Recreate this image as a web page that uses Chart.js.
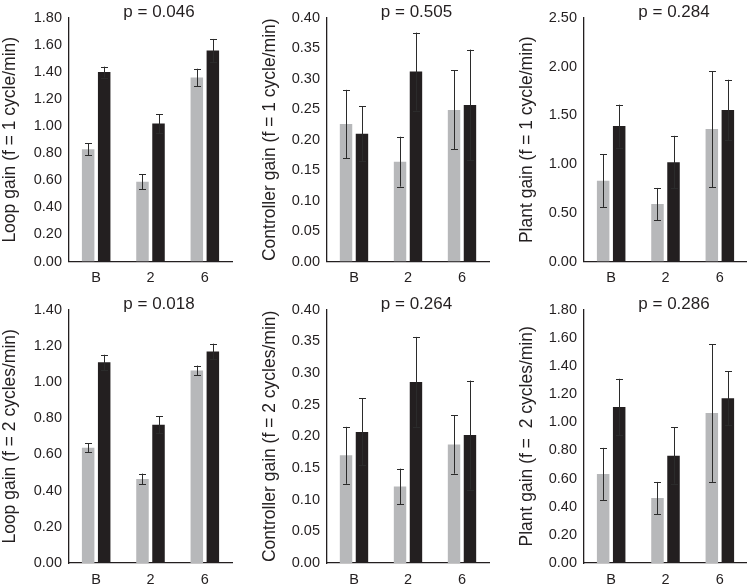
<!DOCTYPE html>
<html><head><meta charset="utf-8">
<script src="https://cdn.jsdelivr.net/npm/chart.js@4"></script>
<style>
html,body{margin:0;padding:0;background:#fff;width:747px;height:586px;overflow:hidden;}
canvas{position:absolute;}
</style></head>
<body>
<canvas id="c1" width="249" height="293" style="left:0px;top:0px"></canvas>
<canvas id="c2" width="238" height="293" style="left:260px;top:0px"></canvas>
<canvas id="c3" width="230" height="293" style="left:517px;top:0px"></canvas>
<canvas id="c4" width="249" height="293" style="left:0px;top:293px"></canvas>
<canvas id="c5" width="238" height="293" style="left:260px;top:293px"></canvas>
<canvas id="c6" width="230" height="293" style="left:517px;top:293px"></canvas>
<script>
// ---- data ----
const categories = ['B', '2', '6'];

const loop1Grey = [0.83, 0.59, 1.36];
const loop1GreyErr = [0.045, 0.055, 0.065];
const loop1Black = [1.40, 1.02, 1.56];
const loop1BlackErr = [0.04, 0.07, 0.085];

const ctrl1Grey = [0.226, 0.164, 0.249];
const ctrl1GreyErr = [0.056, 0.041, 0.065];
const ctrl1Black = [0.210, 0.312, 0.257];
const ctrl1BlackErr = [0.045, 0.064, 0.091];

const plant1Grey = [0.83, 0.59, 1.36];
const plant1GreyErr = [0.27, 0.165, 0.595];
const plant1Black = [1.39, 1.02, 1.556];
const plant1BlackErr = [0.22, 0.27, 0.31];

const loop2Grey = [0.637, 0.464, 1.064];
const loop2GreyErr = [0.026, 0.03, 0.027];
const loop2Black = [1.109, 0.764, 1.169];
const loop2BlackErr = [0.042, 0.048, 0.043];

const ctrl2Grey = [0.170, 0.121, 0.187];
const ctrl2GreyErr = [0.045, 0.028, 0.046];
const ctrl2Black = [0.207, 0.286, 0.202];
const ctrl2BlackErr = [0.053, 0.071, 0.086];

const plant2Grey = [0.633, 0.462, 1.066];
const plant2GreyErr = [0.185, 0.114, 0.49];
const plant2Black = [1.109, 0.763, 1.171];
const plant2BlackErr = [0.2, 0.2, 0.19];

const pValues = ['p = 0.046', 'p = 0.505', 'p = 0.284', 'p = 0.018', 'p = 0.264', 'p = 0.286'];
const yTitles = ['Loop gain (f = 1 cycle/min)', 'Controller gain (f = 1 cycle/min)', 'Plant gain (f = 1 cycle/min)',
                 'Loop gain (f = 2 cycles/min)', 'Controller gain (f = 2 cycles/min)', 'Plant gain (f =  2 cycles/min)'];
const yMaxes = [1.8, 0.4, 2.5, 1.4, 0.4, 1.8];
const ySteps = [0.2, 0.05, 0.5, 0.2, 0.05, 0.2];

// ---- styles ----
const GREY = '#b7b8ba';
const BLACK = '#231f20';
const TEXT = '#231f20';
const FONT = "'Liberation Sans', Arial, sans-serif";

const errorBarPlugin = {
  id: 'errbars',
  afterDatasetsDraw(chart) {
    const ctx = chart.ctx;
    const ys = chart.scales.y;
    ctx.save();
    ctx.strokeStyle = '#2b2b2b';
    ctx.lineWidth = 1;
    chart.data.datasets.forEach((ds, di) => {
      const meta = chart.getDatasetMeta(di);
      meta.data.forEach((el, i) => {
        const v = ds.data[i], e = ds.errors[i];
        const x = Math.round(el.x) + 0.5;
        const yt = ys.getPixelForValue(v + e);
        const yb = ys.getPixelForValue(v - e);
        ctx.beginPath();
        ctx.moveTo(x, yt); ctx.lineTo(x, yb);
        ctx.moveTo(x - 3.5, Math.round(yt) + 0.5); ctx.lineTo(x + 3.5, Math.round(yt) + 0.5);
        ctx.moveTo(x - 3.5, Math.round(yb) + 0.5); ctx.lineTo(x + 3.5, Math.round(yb) + 0.5);
        ctx.stroke();
      });
    });
    ctx.restore();
  }
};

const pTitlePlugin = {
  id: 'ptitle',
  afterDraw(chart, args, opts) {
    const ctx = chart.ctx, ca = chart.chartArea;
    ctx.save();
    ctx.fillStyle = TEXT;
    ctx.font = "17px " + FONT;
    ctx.textAlign = 'center';
    ctx.textBaseline = 'alphabetic';
    ctx.fillText(opts.text, (ca.left + ca.right) / 2 + 8.5, opts.y);
    ctx.restore();
  }
};

function makeChart(id, greyVals, greyErr, blackVals, blackErr, idx, yWidth, padRight, padTop, xHeight, titleY) {
  new Chart(document.getElementById(id), {
    type: 'bar',
    data: {
      labels: categories,
      datasets: [
        { data: greyVals, errors: greyErr, backgroundColor: GREY, borderWidth: 0 },
        { data: blackVals, errors: blackErr, backgroundColor: BLACK, borderWidth: 0 }
      ]
    },
    options: {
      responsive: false,
      animation: false,
      devicePixelRatio: 1,
      categoryPercentage: 0.59,
      barPercentage: 0.78,
      layout: { padding: { left: 0, right: padRight, top: padTop, bottom: 0 } },
      plugins: {
        legend: { display: false },
        tooltip: { enabled: false },
        ptitle: { text: pValues[idx], y: titleY }
      },
      scales: {
        x: {
          grid: { display: false, drawTicks: false },
          border: { display: true, color: BLACK, width: 1.3 },
          ticks: { color: TEXT, font: { family: FONT, size: 14.5 }, padding: 8 },
          afterFit(s) { s.height = xHeight; }
        },
        y: {
          min: 0, max: yMaxes[idx],
          grid: { display: false, drawTicks: false },
          border: { display: true, color: BLACK, width: 1.3 },
          ticks: {
            stepSize: ySteps[idx], color: TEXT, padding: 7,
            font: { family: FONT, size: 14.5 },
            callback: (v) => Number(v).toFixed(2)
          },
          title: {
            display: true, text: yTitles[idx], color: TEXT,
            font: { family: FONT, size: 17.5, lineHeight: 1.2 },
            padding: { top: 0, bottom: 0 }
          },
          afterFit(s) { s.width = yWidth; }
        }
      }
    },
    plugins: [errorBarPlugin, pTitlePlugin]
  });
}

makeChart('c1', loop1Grey, loop1GreyErr, loop1Black, loop1BlackErr, 0, 69, 17, 18, 31.5, 16.7);
makeChart('c2', ctrl1Grey, ctrl1GreyErr, ctrl1Black, ctrl1BlackErr, 1, 67, 9, 18, 31.5, 16.7);
makeChart('c3', plant1Grey, plant1GreyErr, plant1Black, plant1BlackErr, 2, 67, 0, 18, 31.5, 16.7);
makeChart('c4', loop2Grey, loop2GreyErr, loop2Black, loop2BlackErr, 3, 69, 17, 16.7, 23, 15.7);
makeChart('c5', ctrl2Grey, ctrl2GreyErr, ctrl2Black, ctrl2BlackErr, 4, 67, 9, 16.7, 23, 15.7);
makeChart('c6', plant2Grey, plant2GreyErr, plant2Black, plant2BlackErr, 5, 67, 0, 16.7, 23, 15.7);
</script>
</body></html>
